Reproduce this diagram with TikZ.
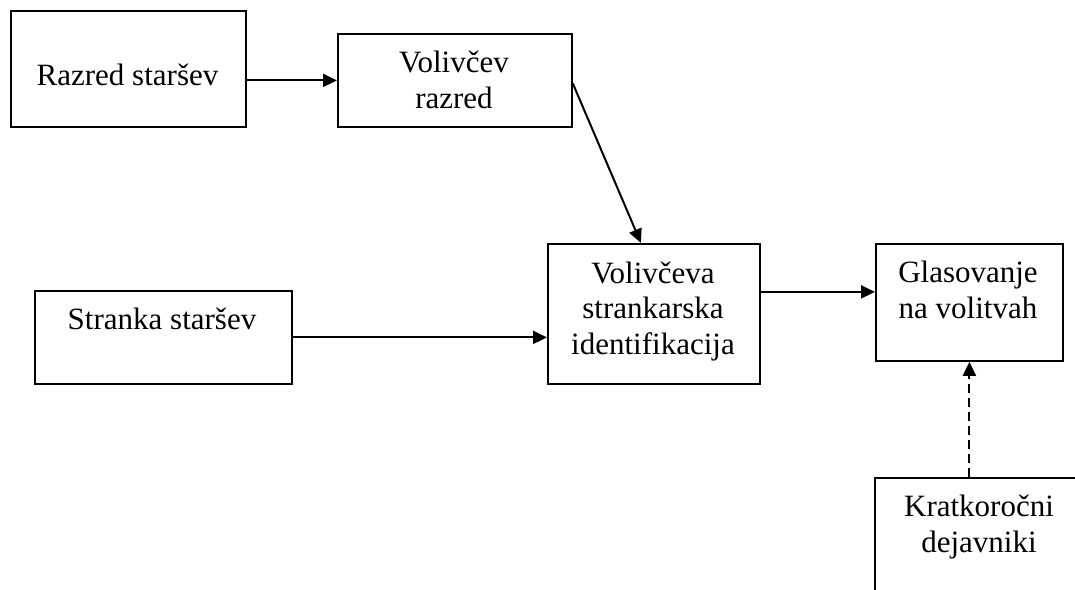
\documentclass[tikz,border=0pt]{standalone}
\usepackage{fontspec}
\setmainfont{Liberation Serif}
\usetikzlibrary{arrows.meta, positioning}

\begin{document}
\begin{tikzpicture}[x=1pt,y=-1pt,
	box/.style={draw,line width=1.8pt,inner sep=0pt,anchor=north west},
	lbl/.style={align=center,inner sep=0pt,anchor=base,font=\fontsize{31}{35.5}\selectfont},
	arr/.style={-{Triangle[length=14pt,width=13pt]},line width=2pt}]
\useasboundingbox (0,0) rectangle (1075,589);
\clip (0,0) rectangle (1075,589);
\node[box,minimum width=235pt,minimum height=116pt] (rs) at (10,10) {};
\node[box,minimum width=234pt,minimum height=93pt] (rv) at (337,33) {};
\node[box,minimum width=212pt,minimum height=140pt] (vi) at (547,243) {};
\node[box,minimum width=257pt,minimum height=93pt] (ss) at (34,290) {};
\node[box,minimum width=187pt,minimum height=117pt] (gl) at (875,243) {};
\node[box,minimum width=210pt,minimum height=150pt] (kd) at (874,477) {};
\node[lbl] (rst) at (127.5,85) {Razred staršev};
\node[lbl] (rvt) at (454,108) {Volivčev\\razred};
\node[lbl] (vit) at (653,354) {Volivčeva\\strankarska\\identifikacija};
\node[lbl] (sst) at (162,329) {Stranka staršev};
\node[lbl] (glt) at (968,318) {Glasovanje\\na volitvah};
\node[lbl] (kdt) at (979,552) {Kratkoročni\\dejavniki};
\coordinate (vo) at ([yshift=22pt]vi.east);
\draw[arr] (rs.east |- rv.west) -- (rv.west);
\draw[arr] ([yshift=-3pt]rv.east) -- ([xshift=-13pt]vi.north);
\draw[arr] (ss.east) -- (vi.west |- ss.east);
\draw[arr] (vo) -- (gl.west |- vo);
\draw[arr,dash pattern=on 9pt off 5pt] (gl.south |- kd.north) -- (gl.south);
\end{tikzpicture}
\end{document}
